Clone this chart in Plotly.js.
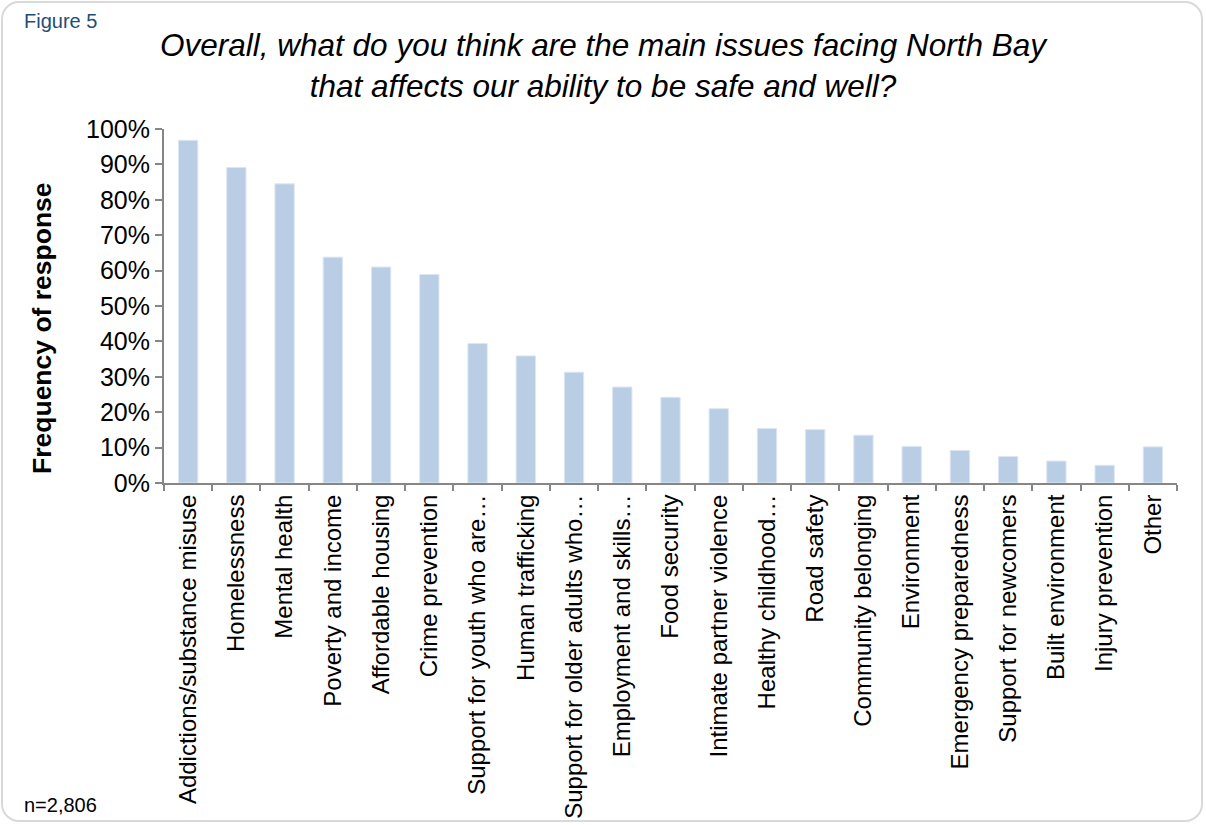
<!DOCTYPE html>
<html>
<head>
<meta charset="utf-8">
<script src="https://cdn.plot.ly/plotly-3.0.1.min.js"></script>
<style>
  html, body { margin: 0; padding: 0; background: #ffffff; }
  #wrap { position: relative; width: 1206px; height: 825px; }
  #chart { position: absolute; left: 0; top: 0; width: 1206px; height: 825px; }
  #frame { position: absolute; left: 1px; top: 1px; width: 1202px; height: 821px;
           border: 2px solid #d9d9d9; border-radius: 18px; box-sizing: border-box; pointer-events: none; }
</style>
</head>
<body>
<div id="wrap">
  <div id="chart"></div>
  <div id="frame"></div>
</div>
<script>
const categories = [
  "Addictions/substance misuse",
  "Homelessness",
  "Mental health",
  "Poverty and income",
  "Affordable housing",
  "Crime prevention",
  "Support for youth who are…",
  "Human trafficking",
  "Support for older adults who…",
  "Employment and skills…",
  "Food security",
  "Intimate partner violence",
  "Healthy childhood…",
  "Road safety",
  "Community belonging",
  "Environment",
  "Emergency preparedness",
  "Support for newcomers",
  "Built environment",
  "Injury prevention",
  "Other"
];
const values = [
  0.968, 0.891, 0.845, 0.638, 0.610, 0.589, 0.394, 0.359, 0.313, 0.271, 0.242,
  0.210, 0.154, 0.151, 0.135, 0.103, 0.092, 0.075, 0.062, 0.050, 0.102
];
const yTickVals = [0, 0.1, 0.2, 0.3, 0.4, 0.5, 0.6, 0.7, 0.8, 0.9, 1.0];
const yTickText = ["0%", "10%", "20%", "30%", "40%", "50%", "60%", "70%", "80%", "90%", "100%"];

const FONT = "Arial, 'Liberation Sans', sans-serif";

const trace = {
  type: "bar",
  x: categories,
  y: values,
  marker: { color: "#B9CDE5", line: { color: "#DCE6F2", width: 1 } },
  hoverinfo: "x+y"
};

const layout = {
  width: 1206,
  height: 825,
  paper_bgcolor: "#ffffff",
  plot_bgcolor: "#ffffff",
  margin: { l: 164, r: 29, t: 129, b: 342 },
  bargap: 0.6,
  showlegend: false,
  font: { family: FONT, color: "#000000" },
  title: {
    text: "<i>Overall, what do you think are the main issues facing North Bay<br>that affects our ability to be safe and well?</i>",
    font: { family: FONT, size: 31.5, color: "#000000" },
    x: 0.5, xref: "container", xanchor: "center",
    y: 0.932, yref: "container", yanchor: "middle"
  },
  xaxis: {
    type: "category",
    tickangle: -90,
    tickfont: { family: FONT, size: 24, color: "#000000" },
    showline: true, linecolor: "#868686", linewidth: 2,
    ticks: "outside", tickson: "boundaries", ticklen: 6, tickcolor: "#868686", tickwidth: 2,
    showgrid: false, zeroline: false,
    automargin: false
  },
  yaxis: {
    range: [0, 1],
    tickvals: yTickVals,
    ticktext: yTickText,
    tickfont: { family: FONT, size: 25, color: "#000000" },
    showline: true, linecolor: "#868686", linewidth: 2,
    ticks: "outside", ticklen: 7, tickcolor: "#868686", tickwidth: 2,
    showgrid: false, zeroline: false,
    automargin: false
  },
  annotations: [
    {
      text: "Figure 5", xref: "paper", yref: "paper",
      x: -0.140, y: 1.343, xanchor: "left", yanchor: "top", showarrow: false,
      font: { family: FONT, size: 20, color: "#1F4E79" }
    },
    {
      text: "n=2,806", xref: "paper", yref: "paper",
      x: -0.140, y: -0.945, xanchor: "left", yanchor: "bottom", showarrow: false,
      font: { family: FONT, size: 20, color: "#000000" }
    },
    {
      text: "<b>Frequency of response</b>", xref: "paper", yref: "paper",
      x: -0.1204, y: 0.438, xanchor: "center", yanchor: "middle", showarrow: false,
      textangle: -90,
      font: { family: FONT, size: 26.5, color: "#000000" }
    }
  ]
};

Plotly.newPlot("chart", [trace], layout, { displayModeBar: false, staticPlot: true });
</script>
</body>
</html>
